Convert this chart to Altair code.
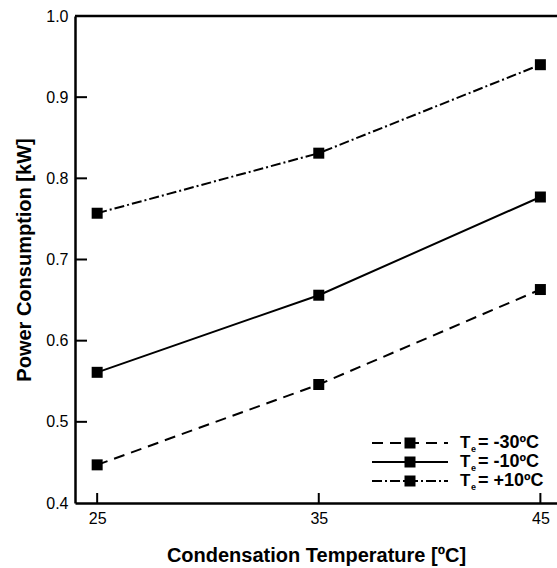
import altair as alt
import pandas as pd

# ---- data ----
cond_temp = [25, 35, 45]
power_m30 = [0.447, 0.546, 0.663]
power_m10 = [0.561, 0.656, 0.777]
power_p10 = [0.757, 0.831, 0.940]
legend_values = ["= -30ºC", "= -10ºC", "= +10ºC"]
x_tick_values = [25, 35, 45]
y_tick_values = [0.5, 0.6, 0.7, 0.8, 0.9]
y_label_values = [0.4, 0.5, 0.6, 0.7, 0.8, 0.9, 1.0]

FONT = "Liberation Sans"
W, H = 482, 487

xs = alt.Scale(domain=[24, 45.75], nice=False, zero=False)
ys = alt.Scale(domain=[0.4, 1.0], nice=False, zero=False)

x_axis = alt.Axis(values=x_tick_values, ticks=False, grid=False, domainWidth=2.5,
                  domainColor="black", labelFont=FONT, labelFontSize=16,
                  labelColor="black", labelPadding=7,
                  title="Condensation Temperature [ºC]", titleFont=FONT,
                  titleFontSize=20, titleFontWeight="bold", titleColor="black",
                  titlePadding=19)
y_axis = alt.Axis(values=y_label_values, format=".1f", ticks=False, grid=False,
                  domainWidth=2.5, domainColor="black", labelFont=FONT,
                  labelFontSize=16, labelColor="black", labelPadding=7,
                  title="Power Consumption [kW]", titleFont=FONT,
                  titleFontSize=20, titleFontWeight="bold", titleColor="black",
                  titlePadding=11)

def X(field="x"):
    return alt.X(f"{field}:Q", scale=xs, axis=x_axis)

def Y(field="y"):
    return alt.Y(f"{field}:Q", scale=ys, axis=y_axis)

series = [
    ("m30", power_m30, [11, 7]),
    ("m10", power_m10, None),
    ("p10", power_p10, [10, 3, 2, 3]),
]

layers = []
for name, vals, dash in series:
    df = pd.DataFrame({"x": cond_temp, "y": vals})
    line_kwargs = dict(color="black", strokeWidth=2)
    if dash:
        line_kwargs["strokeDash"] = dash
    layers.append(alt.Chart(df).mark_line(**line_kwargs).encode(x=X(), y=Y()))
    layers.append(alt.Chart(df).mark_point(shape="square", filled=True, color="black",
                                           size=121, opacity=1).encode(x=X(), y=Y()))

# top frame line
top_df = pd.DataFrame({"y": [1.0]})
layers.append(alt.Chart(top_df).mark_rule(color="black", strokeWidth=2.5).encode(y=Y()))

# inward ticks
yt_df = pd.DataFrame({"y": y_tick_values})
layers.append(alt.Chart(yt_df).mark_rule(color="black", strokeWidth=2).encode(
    y=Y(), x=alt.value(0), x2=alt.value(12)))
xt_df = pd.DataFrame({"x": x_tick_values})
layers.append(alt.Chart(xt_df).mark_rule(color="black", strokeWidth=2).encode(
    x=X(), y=alt.value(H), y2=alt.value(H - 10)))

# manual legend
one = pd.DataFrame({"k": [0]})
row_y = [427, 446, 465]
for (name, vals, dash), label, ry in zip(series, legend_values, row_y):
    lk = dict(color="black", strokeWidth=2)
    if dash:
        lk["strokeDash"] = dash
    layers.append(alt.Chart(one).mark_rule(**lk).encode(
        x=alt.value(297), x2=alt.value(373), y=alt.value(ry)))
    layers.append(alt.Chart(one).mark_point(shape="square", filled=True, color="black",
                                            size=121, opacity=1).encode(
        x=alt.value(335), y=alt.value(ry)))
    layers.append(alt.Chart(one).mark_text(text="T", font=FONT, fontSize=17,
                                           fontWeight="bold", align="left",
                                           baseline="middle", color="black").encode(
        x=alt.value(385), y=alt.value(ry)))
    layers.append(alt.Chart(one).mark_text(text="e", font=FONT, fontSize=9,
                                           fontWeight="bold", align="left",
                                           baseline="middle", color="black").encode(
        x=alt.value(396), y=alt.value(ry + 6)))
    layers.append(alt.Chart(one).mark_text(text=label, font=FONT, fontSize=18,
                                           fontWeight="bold", align="left",
                                           baseline="middle", color="black").encode(
        x=alt.value(403), y=alt.value(ry)))

chart = alt.layer(*layers).properties(
    width=W, height=H,
    padding={"left": 75, "top": 16, "right": 0, "bottom": 65},
    autosize=alt.AutoSizeParams(type="none"),
    background="white",
).configure_view(stroke=None)

chart.save("out.html", embed_options={"renderer": "svg", "actions": False})
